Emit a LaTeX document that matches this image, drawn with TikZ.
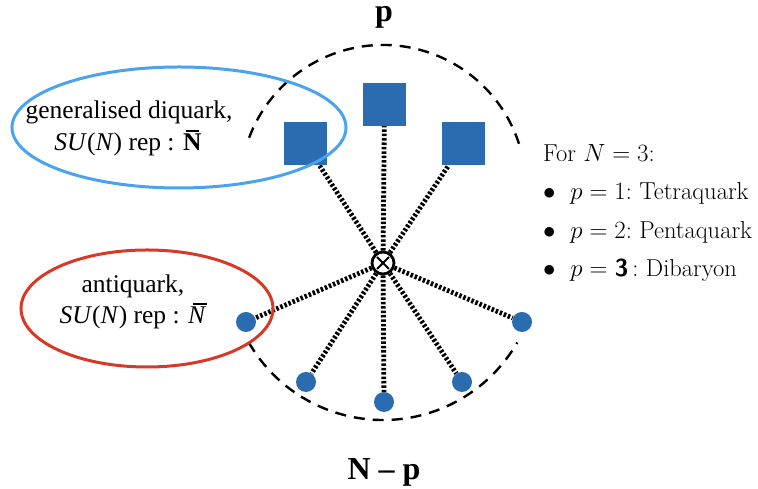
\documentclass[tikz,border=0pt]{standalone}
\usepackage{fontspec}
\usetikzlibrary{shapes.geometric,backgrounds}
\newfontfamily\tms{Liberation Serif}
\definecolor{qblue}{HTML}{2B6CB0}
\definecolor{lblue}{HTML}{4AA3EC}
\definecolor{qred}{HTML}{D63A26}
\newcommand\barN[2]{\leavevmode\rlap{\hspace{#1}\rule[0.74em]{0.52em}{0.055em}}#2}
\begin{document}
\begin{tikzpicture}[x=1pt,y=1pt,
  sq/.style={fill=qblue, minimum size=43pt, inner sep=0pt, draw=none},
  dotn/.style={circle, fill=qblue, minimum size=20pt, inner sep=0pt, draw=none},
  link/.style={line width=4.8pt, dash pattern=on 2.5pt off 1.9pt},
  arcline/.style={line width=2.4pt, dash pattern=on 11pt off 8pt},
  lab/.style={font=\tms\fontsize{25.5}{30}\selectfont, align=center, inner sep=0pt},
  big/.style={font=\tms\bfseries\fontsize{32}{36}\selectfont, inner sep=0pt, anchor=base},
  rt/.style={font=\fontsize{24.5}{28}\selectfont, anchor=base west, inner sep=0pt},
  ell/.style={line width=3pt}]
\useasboundingbox (0,0) rectangle (758,489);
% dashed arcs
\draw[arcline] (519,345.2) arc[start angle=18, end angle=162, radius=143];
\draw[arcline] (248.8,146.5) arc[start angle=210, end angle=330, radius=155];
% nodes
\node[circle, minimum size=22pt, inner sep=0pt, draw, line width=2.8pt, fill=white] (c) at (383,226) {};
\draw[line width=2pt] ([shift={(-6,-6)}]c.center) -- ([shift={(6,6)}]c.center);
\draw[line width=2pt] ([shift={(-6,6)}]c.center) -- ([shift={(6,-6)}]c.center);
\node[sq] (s1) at (305.5,345) {};
\node[sq] (s2) at (384.5,384.5) {};
\node[sq] (s3) at (463,345) {};
\node[dotn] (d1) at (246,167) {};
\node[dotn] (d2) at (306,107) {};
\node[dotn] (d3) at (384,87) {};
\node[dotn] (d4) at (462,107) {};
\node[dotn] (d5) at (522,167) {};
% links
\begin{scope}[on background layer]
\foreach \n in {s1,s2,s3,d1,d2,d3,d4,d5}{
  \draw[link] (c) -- (\n);
}
\end{scope}
% ellipses
\node[draw=lblue, ell, ellipse, minimum width=334pt, minimum height=121pt, inner sep=0pt] (be) at (179,361.5) {};
\node[draw=qred, ell, ellipse, minimum width=252pt, minimum height=117pt, inner sep=0pt] (re) at (147,180.5) {};
% labels
\node[lab] (bl1) at (129,377) {generalised diquark,};
\node[lab] (bl2) at (128,346) {\textit{SU}(\textit{N}) rep : \textbf{\barN{0.1em}{N}}};
\node[lab] (rl1) at (133,203) {antiquark,};
\node[lab] (rl2) at (133,173) {\textit{SU}(\textit{N}) rep : \textit{\barN{0.2em}{N}}};
\node[big] (ptop) at (384,467) {p};
\node[big] (pbot) at (384,9) {N – p};
% right text
\node[rt] (t0) at (543,327) {For $N=3$:};
\node[rt] (t1) at (543,289) {$\bullet$\ \ $p=1$:\ Tetraquark};
\node[rt] (t2) at (543,250) {$\bullet$\ \ $p=2$:\ Pentaquark};
\node[rt] (t3) at (543,212) {$\bullet$\ \ $p=$\ {\sffamily\bfseries 3}\,:\ Dibaryon};
\end{tikzpicture}
\end{document}
